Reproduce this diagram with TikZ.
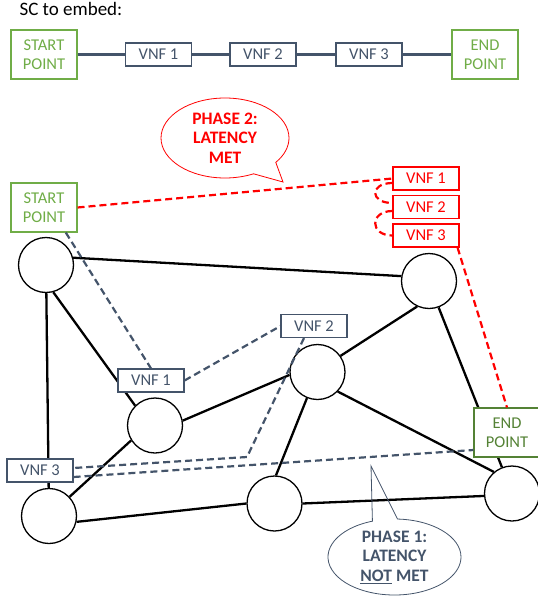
\documentclass[tikz,border=0pt]{standalone}
\usepackage{fontspec}
\setmainfont{Carlito}
\usetikzlibrary{shapes.callouts}
\definecolor{xam}{HTML}{44546A}
\definecolor{xanhla}{HTML}{70AD47}
\definecolor{xanhdam}{HTML}{548235}
\definecolor{do}{HTML}{FF0000}
\begin{document}
\begin{tikzpicture}[x=1pt,y=-1pt,
	every node/.style={font=\fontsize{16.5}{19}\selectfont},
	hop/.style={draw=xam,line width=1.1pt,fill=white,text=xam,minimum width=66pt,minimum height=23pt,inner sep=0pt},
	hopdo/.style={hop,draw=do,text=do},
	diem/.style={draw=xanhla,line width=1.1pt,fill=white,text=xanhla,align=center,minimum width=66pt,minimum height=49pt,inner sep=0pt},
	nut/.style={circle,draw,line width=1.3pt,fill=white,minimum size=55pt,inner sep=0pt},
	canh/.style={line width=2.3pt},
	pha1/.style={xam,line width=2.2pt,dash pattern=on 7pt off 4pt},
	pha2/.style={do,line width=2.2pt,dash pattern=on 7pt off 4pt},
	loi/.style={ellipse callout,line width=.8pt,align=center,inner sep=0pt,font=\bfseries\fontsize{17.5}{19.5}\selectfont}]
	\def\cong{23} % cong ve ben trai
	\useasboundingbox (0,0) rectangle (538,597);
	% chuoi SC
	\node[anchor=base west,font=\fontsize{19}{22}\selectfont] (tieude) at (16,16) {SC to embed:};
	\node[diem] (sp1) at (44,54.5) {START\\POINT};
	\node[hop] (tv1) at (158.5,54.5) {VNF 1};
	\node[hop] (tv2) at (263,54.5) {VNF 2};
	\node[hop] (tv3) at (369,54.5) {VNF 3};
	\node[diem] (ep1) at (485,54.5) {END\\POINT};
	\draw[xam,line width=2.4pt] (sp1) -- (tv1) -- (tv2) -- (tv3) -- (ep1);
	% mang
	\node[nut] (n1) at (46,265) {};
	\node[nut] (n2) at (429,281) {};
	\node[nut] (n3) at (317.5,372) {};
	\node[nut] (n4) at (155,425.5) {};
	\node[nut] (n5) at (49,516) {};
	\node[nut] (n6) at (274.5,503.5) {};
	\node[nut] (n7) at (512,493.5) {};
	\draw[canh] (n1.15) -- (n2.170)
	(n1) -- (n5)
	(n1.-75) -- (n4.135)
	(n2.-115) -- (n3.35)
	(n2.-70) -- (n7.111)
	(n3.186) -- (n4.10)
	(n3.-112) -- (n6.87)
	(n3.-44) -- (n7.130)
	(n4.-148) -- (n5.43)
	(n5.-12) -- (n6.180)
	(n6.0) -- (n7.185);
	\node[diem] (sp2) at (44,207.5) {START\\POINT};
	\node[diem,draw=xanhdam,text=xanhdam] (ep2) at (507,432.5) {END\\POINT};
	\node[hopdo] (rv1) at (426,178.5) {VNF 1};
	\node[hopdo] (rv2) at (426,207) {VNF 2};
	\node[hopdo] (rv3) at (426,235.5) {VNF 3};
	\node[hop] (bv1) at (151,380.5) {VNF 1};
	\node[hop] (bv2) at (314,326) {VNF 2};
	\node[hop] (bv3) at (40,470.5) {VNF 3};
	% pha 1
	\coordinate (gap) at (247,457);
	\draw[pha1] (sp2.-49) -- (bv1.north);
	\draw[pha1] (bv1.east) -- (bv2.west);
	\draw[pha1] ([xshift=-10pt]bv2.south) -- (gap) -- ([yshift=2.5pt]bv3.east);
	\draw[pha1] ([yshift=-6.5pt]bv3.east) -- ([yshift=-17.5pt]ep2.west);
	% pha 2
	\draw[pha2] (sp2.east) -- (rv1.west);
	\draw[pha2] ([yshift=-4.5pt]rv1.west) .. controls +(-\cong,0) and +(-\cong,0) .. ([yshift=4pt]rv2.west);
	\draw[pha2] ([yshift=-4pt]rv2.west) .. controls +(-\cong,0) and +(-\cong,0) .. (rv3.west);
	\draw[pha2] ([xshift=-2pt]rv3.south east) -- (ep2.north);
	% loi chu thich
	\coordinate (mui2) at (283,182);
	\coordinate (mui1) at (371,466);
	\node[loi,draw=do,text=do,minimum width=128pt,minimum height=80pt,callout absolute pointer={(mui2)},callout pointer arc=26] (ph2) at (225,138) {PHASE 2:\\LATENCY\\MET};
	\node[loi,draw=xam,text=xam,minimum width=133pt,minimum height=76pt,callout absolute pointer={(mui1)},callout pointer arc=22] (ph1) at (394.5,557) {PHASE 1:\\LATENCY\\\underline{NOT} MET};
\end{tikzpicture}
\end{document}
